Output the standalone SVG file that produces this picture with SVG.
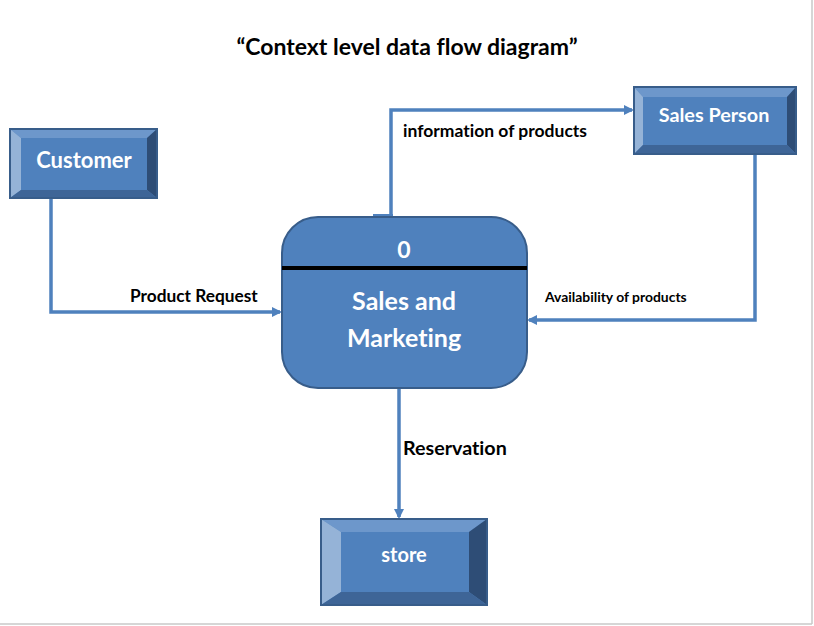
<svg xmlns="http://www.w3.org/2000/svg" width="814" height="626" viewBox="0 0 814 626">
<defs>
<style>
text{font-variant-ligatures:none}
.face{fill:#4f81bd}
.bt{fill:#6d97cb}
.bl{fill:#95b3d7}
.br{fill:#2e4d76}
.bb{fill:#3e6597}
.out{fill:none;stroke:#385d8a;stroke-width:2}
.wt{font-family:Lato,"Liberation Sans",sans-serif;font-weight:bold;fill:#fff;text-anchor:middle}
.lbl{font-family:Lato,"Liberation Sans",sans-serif;font-weight:bold;fill:#000}
.con{fill:none;stroke:#4f81bd;stroke-width:3.5}
</style>
<marker id="ah" markerWidth="10" markerHeight="10" refX="8" refY="5" orient="auto" markerUnits="userSpaceOnUse" viewBox="0 0 10 10">
<path d="M0,0 L10,5 L0,10 Z" fill="#4f81bd"/>
</marker>
</defs>
<rect width="814" height="626" fill="#fff"/>
<line x1="812" y1="0" x2="812" y2="624" stroke="#c8c8c8" stroke-width="1.5"/>
<line x1="0" y1="624" x2="812" y2="624" stroke="#c8c8c8" stroke-width="1.5"/>

<text x="407" y="55" font-family="Lato,'Liberation Sans',sans-serif" font-weight="bold" font-size="23" text-anchor="middle" fill="#000">“Context level data flow diagram”</text>

<g id="connectors">
<path class="con" d="M51,198 V312 H280" marker-end="url(#ah)"/>
<path class="con" d="M391,216 V110 H632" marker-end="url(#ah)"/>
<path class="con" d="M755,154 V320 H529" marker-end="url(#ah)"/>
<path class="con" d="M399,388 V517" marker-end="url(#ah)"/>
<rect x="48" y="195" width="6" height="4" fill="#4f81bd"/>
<rect x="373" y="214" width="20" height="4" fill="#4f81bd"/>
<rect x="730" y="151" width="27" height="4" fill="#4f81bd"/>
<text class="lbl" x="130" y="302" font-size="17.3">Product Request</text>
<text class="lbl" x="403" y="137" font-size="17.5">information of products</text>
<text class="lbl" x="545" y="302" font-size="13.9">Availability of products</text>
<text class="lbl" x="403" y="455" font-size="19.7">Reservation</text>
</g>

<g id="customer">
<rect x="10" y="129" width="147" height="69" class="face"/>
<polygon points="10,129 157,129 147,138 21,138" class="bt"/>
<polygon points="10,129 21,138 21,190 10,198" class="bl"/>
<polygon points="157,129 157,198 147,190 147,138" class="br"/>
<polygon points="10,198 21,190 147,190 157,198" class="bb"/>
<rect x="10" y="129" width="147" height="69" class="out"/>
<text class="wt" x="84" y="168" font-size="22">Customer</text>
</g>

<g id="sales-person">
<rect x="634" y="87" width="162" height="67" class="face"/>
<polygon points="634,87 796,87 787,97 643,97" class="bt"/>
<polygon points="634,87 643,97 643,145 634,154" class="bl"/>
<polygon points="796,87 796,154 787,145 787,97" class="br"/>
<polygon points="634,154 643,145 787,145 796,154" class="bb"/>
<rect x="634" y="87" width="162" height="67" class="out"/>
<text class="wt" x="714" y="122" font-size="19.8">Sales Person</text>
</g>

<g id="store">
<rect x="321" y="519" width="166" height="86" class="face"/>
<polygon points="321,519 487,519 469,532 341,532" class="bt"/>
<polygon points="321,519 341,532 341,592 321,605" class="bl"/>
<polygon points="487,519 487,605 469,592 469,532" class="br"/>
<polygon points="321,605 341,592 469,592 487,605" class="bb"/>
<rect x="321" y="519" width="166" height="86" class="out"/>
<text class="wt" x="404" y="562" font-size="20">store</text>
</g>

<g id="process">
<rect x="282" y="217" width="245" height="171" rx="36" ry="36" fill="#4f81bd" stroke="#385d8a" stroke-width="2"/>
<line x1="282" y1="268" x2="527" y2="268" stroke="#000" stroke-width="4"/>
<text class="wt" x="404" y="258" font-size="23">0</text>
<text class="wt" x="404" y="310" font-size="25">Sales and</text>
<text class="wt" x="404" y="347" font-size="25">Marketing</text>
</g>
</svg>
